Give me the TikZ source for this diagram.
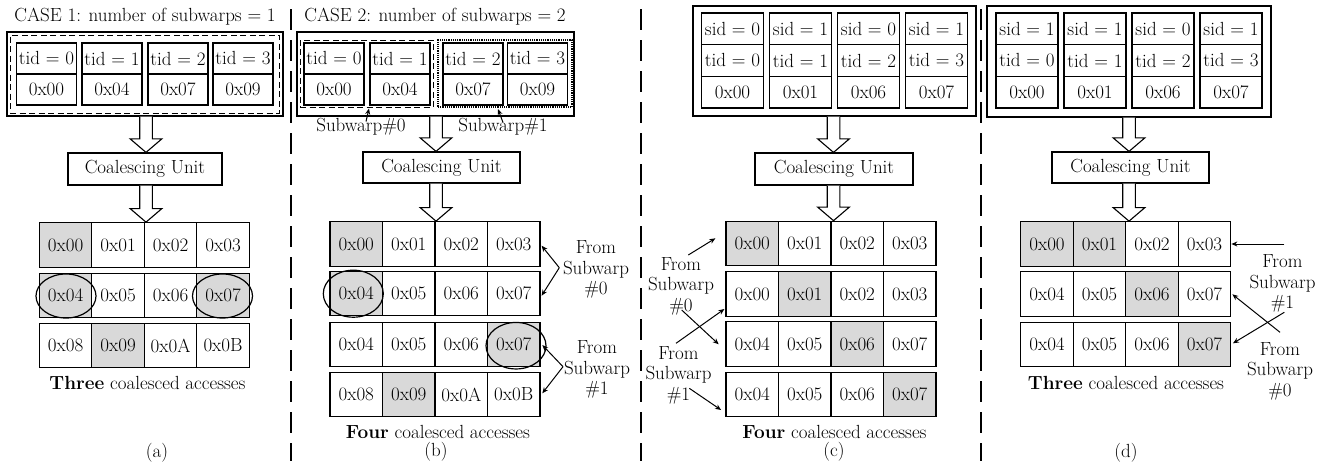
\documentclass[tikz,border=0pt]{standalone}
\usepackage{fontspec}
\usetikzlibrary{arrows.meta,shapes.geometric,calc}
\definecolor{cellgray}{HTML}{D9D9D9}

\tikzset{
  box/.style={draw, line width=1.2pt, inner sep=0pt},
  idcell/.style={box, minimum width=60pt, minimum height=31pt},
  sidcell/.style={box, minimum width=62pt, minimum height=31.7pt},
  memcell/.style={box, minimum width=52.5pt, minimum height=44.5pt},
  shadedcell/.style={fill=cellgray},
  plaincell/.style={},
  warpbox/.style={box},
  groupdash/.style={draw, line width=1pt, dash pattern=on 6pt off 3.5pt, inner sep=0pt},
  groupdot/.style={draw, line width=1.2pt, densely dotted, inner sep=0pt},
  unitbox/.style={box, minimum width=156pt, minimum height=31.5pt},
  blockarrow/.style={draw, fill=white, line width=1.1pt, line join=miter},
  oval/.style={draw, ellipse, line width=1.2pt, inner sep=0pt},
  fromlbl/.style={align=center, inner sep=1pt},
  caption/.style={inner sep=0pt},
  pointer/.style={line width=1pt, -{Stealth[length=6pt,width=5pt]}},
  sepline/.style={line width=2.6pt, dash pattern=on 21pt off 10pt, dash phase=21.6pt},
}

% hollow downward block arrow from #1 (top of shaft) to #2 (tip)
\newcommand\blockdown[2]{%
  \draw[blockarrow] ([xshift=-6.3pt]#1) -- ([xshift=-6.3pt,yshift=13.5pt]#2)
    -- ([xshift=-15.8pt,yshift=13.5pt]#2) -- (#2)
    -- ([xshift=15.8pt,yshift=13.5pt]#2) -- ([xshift=6.3pt,yshift=13.5pt]#2)
    -- ([xshift=6.3pt]#1);}

% one row of four memory cells: #1 name prefix, #2 x of first centre, #3 y, #4 text/style list
\newcommand\memrow[4]{%
  \foreach \t/\s [count=\i] in {#4}
    \node[memcell,\s] (#1\i) at ({#2+52.5*(\i-1)},#3) {\t};}

\begin{document}
\begin{tikzpicture}[x=1pt, y=-1pt, font=\fontsize{19}{20.5}\selectfont]
\useasboundingbox (0,0) rectangle (1329,461);

% ---------------- separators ----------------
\coordinate (s1a) at (291,0);  \coordinate (s1b) at (291,461);
\coordinate (s2a) at (641,0);  \coordinate (s2b) at (641,461);
\coordinate (s3a) at (981,0);  \coordinate (s3b) at (981,461);
\draw[sepline] (s1a) -- (s1b);
\draw[sepline] (s2a) -- (s2b);
\draw[sepline] (s3a) -- (s3b);

% ---------------- (a) ----------------
\node (titleA) at (145,17) {CASE 1: number of subwarps = 1};
\node[warpbox, minimum width=276pt, minimum height=84pt] (warpA) at (145,74) {};
\node[groupdash, minimum width=269pt, minimum height=78pt] (grpA) at (144.5,74) {};
\foreach \x/\i/\ad in {46.5/0/0x00, 112/1/0x04, 178/2/0x07, 243/3/0x09} {
  \node[idcell] (atid\i) at (\x,58.5) {tid = \i};
  \node[idcell] (aadr\i) at (\x,89.5) {\ad};
}
\node[unitbox, minimum width=154pt, minimum height=32pt] (coalA) at (145,169) {Coalescing Unit};
\memrow{a1}{65.55}{245}{0x00/shadedcell,0x01/plaincell,0x02/plaincell,0x03/plaincell}
\memrow{a2}{65.55}{295.5}{0x04/shadedcell,0x05/plaincell,0x06/plaincell,0x07/shadedcell}
\memrow{a3}{65.55}{345.5}{0x08/plaincell,0x09/shadedcell,0x0A/plaincell,0x0B/plaincell}
\node[oval, minimum width=60pt, minimum height=44pt] (ovA1) at (66,296) {};
\node[oval, minimum width=60pt, minimum height=44pt] (ovA2) at (222.5,296) {};
\coordinate (axA) at (146,0);
\coordinate (aT1) at (warpA.south -| axA); \coordinate (aB1) at (coalA.north -| axA);
\coordinate (aT2) at (coalA.south -| axA); \coordinate (aB2) at (a11.north -| axA);
\blockdown{aT1}{aB1}
\blockdown{aT2}{aB2}
\node[caption] (capA) at (147.5,383) {\textbf{Three} coalesced accesses};
\node[caption] (subA) at (157,453) {(a)};

% ---------------- (b) ----------------
\node (titleB) at (435,17) {CASE 2: number of subwarps = 2};
\node[warpbox, minimum width=277pt, minimum height=84pt] (warpB) at (435.5,74) {};
\node[groupdash, minimum width=133pt, minimum height=67pt] (grpB0) at (366.5,73.5) {};
\node[groupdot, minimum width=134pt, minimum height=67pt] (grpB1) at (505,73.5) {};
\foreach \x/\i/\ad in {334/0/0x00, 400/1/0x04, 473/2/0x07, 537.5/3/0x09} {
  \node[idcell] (btid\i) at (\x,58.5) {tid = \i};
  \node[idcell] (badr\i) at (\x,89.5) {\ad};
}
\node (sw0) at (361,126.5) {Subwarp\#0};
\node (sw1) at (503,126.5) {Subwarp\#1};
\draw[pointer] ([shift={(5,-5)}]sw0.center) -- ([shift={(2.5,1)}]grpB0.south);
\draw[pointer] ([shift={(0,-4)}]sw1.center) -- ([shift={(-7,1.5)}]grpB1.south);
\node[unitbox, minimum width=157pt, minimum height=31pt] (coalB) at (441.5,167.5) {Coalescing Unit};
\memrow{b1}{356.25}{244}{0x00/shadedcell,0x01/plaincell,0x02/plaincell,0x03/plaincell}
\memrow{b2}{356.25}{293.5}{0x04/shadedcell,0x05/plaincell,0x06/plaincell,0x07/plaincell}
\memrow{b3}{356.25}{344.5}{0x04/plaincell,0x05/plaincell,0x06/plaincell,0x07/shadedcell}
\memrow{b4}{356.25}{394.5}{0x08/plaincell,0x09/shadedcell,0x0A/plaincell,0x0B/plaincell}
\node[oval, minimum width=60pt, minimum height=47pt] (ovB1) at (353.3,293.7) {};
\node[oval, minimum width=60pt, minimum height=46.5pt] (ovB2) at (516,345.7) {};
\coordinate (axB) at (436,0);
\coordinate (bT1) at (warpB.south -| axB); \coordinate (bB1) at (coalB.north -| axB);
\coordinate (bT2) at (coalB.south -| axB); \coordinate (bB2) at (b11.north -| axB);
\blockdown{bT1}{bB1}
\blockdown{bT2}{bB2}
\node[fromlbl] (bL0) at (596,269.7) {From\\Subwarp\\\#0};
\node[fromlbl] (bL1) at (597,369.7) {From\\Subwarp\\\#1};
\draw[pointer] ([shift={(-36.7,-2)}]bL0.center) -- ([shift={(1,1.7)}]b14.east);
\draw[pointer] ([shift={(-36.7,-2)}]bL0.center) -- ([shift={(1,2.2)}]b24.east);
\draw[pointer] ([shift={(-34,-3)}]bL1.center) -- ([shift={(1.7,0.5)}]b34.east);
\draw[pointer] ([shift={(-34,-3)}]bL1.center) -- ([shift={(1.7,-1.2)}]b44.east);
\node[caption] (capB) at (438,432) {\textbf{Four} coalesced accesses};
\node[caption] (subB) at (436,452) {(b)};

% ---------------- (c) ----------------
\node[warpbox, minimum width=283pt, minimum height=110pt] (warpC) at (834.5,61) {};
\foreach \x/\i/\sd/\ad in {732.5/0/0/0x00, 800.5/1/1/0x01, 868.5/2/0/0x06, 936.5/3/1/0x07} {
  \node[sidcell] (csid\i) at (\x,28.8) {sid = \sd};
  \node[sidcell] (ctid\i) at (\x,60.5) {tid = \i};
  \node[sidcell] (cadr\i) at (\x,92.2) {\ad};
}
\node[unitbox, minimum width=158pt, minimum height=32pt] (coalC) at (834,169) {Coalescing Unit};
\memrow{c1}{752.25}{243.5}{0x00/shadedcell,0x01/plaincell,0x02/plaincell,0x03/plaincell}
\memrow{c2}{752.25}{294}{0x00/plaincell,0x01/shadedcell,0x02/plaincell,0x03/plaincell}
\memrow{c3}{752.25}{344}{0x04/plaincell,0x05/plaincell,0x06/shadedcell,0x07/plaincell}
\memrow{c4}{752.25}{394.5}{0x04/plaincell,0x05/plaincell,0x06/plaincell,0x07/shadedcell}
\coordinate (axC) at (833.5,0);
\coordinate (cT1) at (warpC.south -| axC); \coordinate (cB1) at (coalC.north -| axC);
\coordinate (cT2) at (coalC.south -| axC); \coordinate (cB2) at (c11.north -| axC);
\blockdown{cT1}{cB1}
\blockdown{cT2}{cB2}
\node[fromlbl] (cL0) at (681,286) {From\\Subwarp\\\#0};
\node[fromlbl] (cL1) at (678.5,375) {From\\Subwarp\\\#1};
\draw[pointer] ([shift={(7.3,-31)}]cL0.center) -- ([shift={(-10,-5.2)}]c11.west);
\draw[pointer] ([shift={(0.7,24)}]cL0.center) -- ([shift={(-6.7,0.3)}]c31.west);
\draw[pointer] ([shift={(-2.5,-31.7)}]cL1.center) -- ([shift={(-1,15)}]c21.west);
\draw[pointer] ([shift={(10.8,13.3)}]cL1.center) -- ([shift={(-4.3,15.5)}]c41.west);
\node[caption] (capC) at (834.5,432) {\textbf{Four} coalesced accesses};
\node[caption] (subC) at (834,452) {(c)};

% ---------------- (d) ----------------
\node[warpbox, minimum width=284pt, minimum height=111pt] (warpD) at (1129,61.5) {};
\foreach \x/\i/\sd/\ad in {1027/0/1/0x00, 1095/1/1/0x01, 1163/2/0/0x06, 1231/3/1/0x07} {
  \node[sidcell] (dsid\i) at (\x,28.8) {sid = \sd};
  \node[sidcell] (dtid\i) at (\x,60.5) {tid = \i};
  \node[sidcell] (dadr\i) at (\x,92.2) {\ad};
}
\node[unitbox, minimum width=157pt, minimum height=31pt] (coalD) at (1130.5,167.5) {Coalescing Unit};
\memrow{d1}{1047}{244}{0x00/shadedcell,0x01/shadedcell,0x02/plaincell,0x03/plaincell}
\memrow{d2}{1047}{294}{0x04/plaincell,0x05/plaincell,0x06/shadedcell,0x07/plaincell}
\memrow{d3}{1047}{344.5}{0x04/plaincell,0x05/plaincell,0x06/plaincell,0x07/shadedcell}
\coordinate (axD) at (1129,0);
\coordinate (dT1) at (warpD.south -| axD); \coordinate (dB1) at (coalD.north -| axD);
\coordinate (dT2) at (coalD.south -| axD); \coordinate (dB2) at (d11.north -| axD);
\blockdown{dT1}{dB1}
\blockdown{dT2}{dB2}
\node[fromlbl] (dL1) at (1282.5,283.5) {From\\Subwarp\\\#1};
\node[fromlbl] (dL0) at (1280,371) {From\\Subwarp\\\#0};
\draw[pointer] ([shift={(1.8,-39.5)}]dL1.center) -- (d14.east);
\draw[pointer] ([shift={(0,-38.7)}]dL0.center) -- ([shift={(1,0.3)}]d24.east);
\draw[pointer] ([shift={(1.8,28.8)}]dL1.center) -- ([shift={(1.6,-1.2)}]d34.east);
\node[caption] (capD) at (1126,383) {\textbf{Three} coalesced accesses};
\node[caption] (subD) at (1126,453) {(d)};
\end{tikzpicture}
\end{document}
